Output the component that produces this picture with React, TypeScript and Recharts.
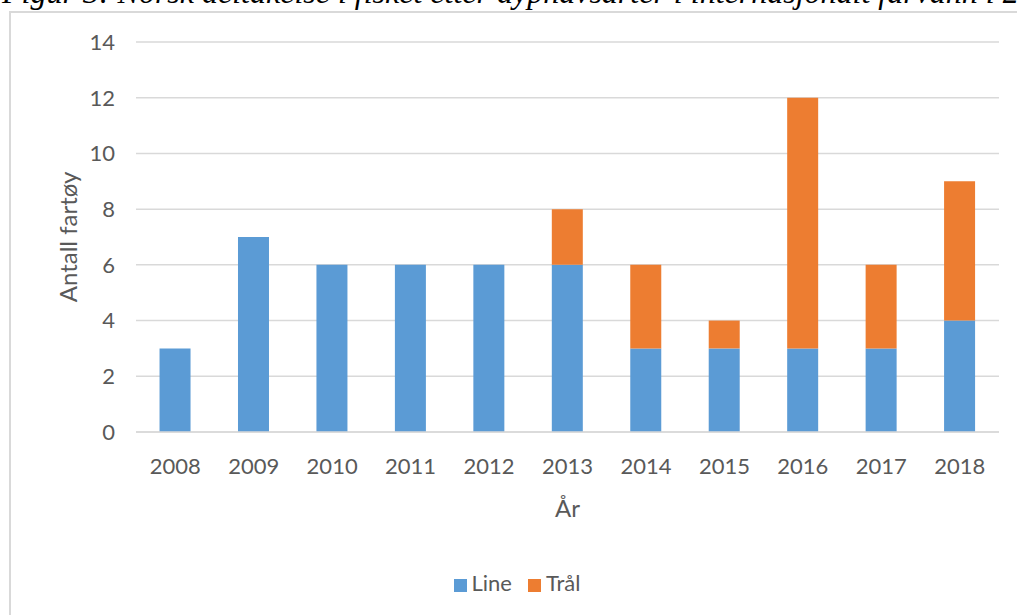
import { BarChart, Bar, XAxis, YAxis, CartesianGrid, Legend } from "recharts";

// Antall fartøy per år, fordelt på redskap
const years = ["2008", "2009", "2010", "2011", "2012", "2013", "2014", "2015", "2016", "2017", "2018"];
const lineVessels = [3, 7, 6, 6, 6, 6, 3, 3, 3, 3, 4];
const trawlVessels = [0, 0, 0, 0, 0, 2, 3, 1, 9, 3, 5];
const yTicks = [0, 2, 4, 6, 8, 10, 12, 14];

const data = years.map((year, i) => ({
  year,
  Line: lineVessels[i],
  "Trål": trawlVessels[i],
}));

const FONT = "Lato, 'Open Sans', sans-serif";
const TEXT = "#595959";
const GRID = "#d9d9d9";

export default function App() {
  return (
    <div
      style={{
        position: "fixed",
        left: 0,
        top: 0,
        width: 1017,
        height: 615,
        overflow: "hidden",
        background: "#fff",
      }}
    >
      {/* caption, cut off at the top like in the source document */}
      <div
        style={{
          position: "absolute",
          left: 2,
          top: -24,
          whiteSpace: "nowrap",
          fontFamily: "'Liberation Serif', 'DejaVu Serif', serif",
          fontStyle: "italic",
          fontSize: 32,
          lineHeight: "32px",
          color: "#000",
        }}
      >
        Figur 3: Norsk deltakelse i fisket etter dyphavsarter i internasjonalt farvann i 2008–2018
      </div>

      {/* chart frame */}
      <div
        style={{
          position: "absolute",
          left: 9,
          top: 11,
          width: 1100,
          height: 700,
          borderLeft: `2px solid ${GRID}`,
          borderTop: `2px solid ${GRID}`,
        }}
      />

      <div style={{ position: "absolute", left: 0, top: 0 }}>
        <BarChart
          width={1017}
          height={615}
          data={data}
          margin={{ top: 42, right: 18, left: 0, bottom: 0 }}
          barCategoryGap="30%"
        >
          <CartesianGrid vertical={false} stroke={GRID} strokeWidth={1.5} />
          <XAxis
            dataKey="year"
            height={183}
            axisLine={{ stroke: GRID, strokeWidth: 1.5 }}
            tickLine={false}
            tickMargin={20}
            tick={{ fontSize: 22, fill: TEXT, fontFamily: FONT }}
            label={{
              value: "År",
              position: "insideTop",
              offset: 68,
              fontSize: 24,
              fill: TEXT,
              fontFamily: FONT,
            }}
          />
          <YAxis
            width={136}
            domain={[0, 14]}
            ticks={yTicks}
            axisLine={false}
            tickLine={false}
            tickMargin={15}
            tick={{ fontSize: 22, fill: TEXT, fontFamily: FONT }}
            label={{
              value: "Antall fartøy",
              angle: -90,
              position: "center",
              fontSize: 24,
              fill: TEXT,
              fontFamily: FONT,
            }}
          />
          <Legend
            layout="horizontal"
            verticalAlign="middle"
            align="center"
            iconType="square"
            iconSize={13}
            wrapperStyle={{
              top: 569,
              left: 0,
              width: 1050,
              fontSize: 22,
              fontFamily: FONT,
            }}
            formatter={(value: string) => (
              <span style={{ color: TEXT, marginRight: 6, marginLeft: 1 }}>{value}</span>
            )}
          />
          <Bar dataKey="Line" stackId="a" fill="#5b9bd5" isAnimationActive={false} />
          <Bar dataKey="Trål" stackId="a" fill="#ed7d31" isAnimationActive={false} />
        </BarChart>
      </div>
    </div>
  );
}
